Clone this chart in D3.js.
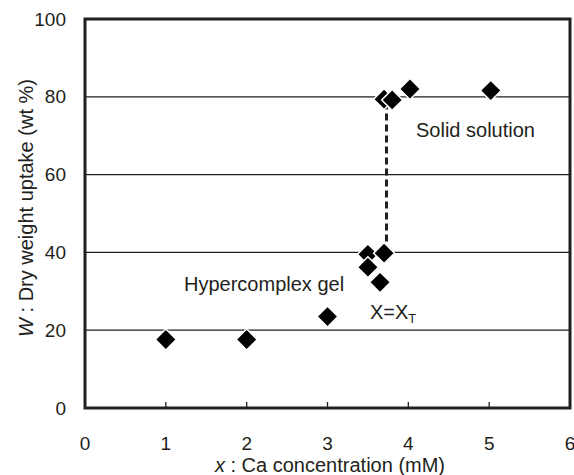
<!DOCTYPE html>
<html>
<head>
<meta charset="utf-8">
<script src="https://cdn.jsdelivr.net/npm/d3@7"></script>
<style>
body { margin: 0; background: #fff; }
text { font-family: "Liberation Sans", Arial, sans-serif; fill: #231f20; }
</style>
</head>
<body>
<div class="chart"></div>
<script>
// data
var ca_conc = [1, 2, 3, 3.5, 3.5, 3.65, 3.7, 3.7, 3.8, 4.02, 5.02];
var uptake = [17.6, 17.6, 23.5, 39.5, 36.2, 32.3, 39.8, 79.4, 79.2, 82.0, 81.6];
var x_ticks = [0, 1, 2, 3, 4, 5, 6];
var y_ticks = [0, 20, 40, 60, 80, 100];
var transition_x = [3.73];
var transition_y = [40, 79.5];

var width = 574, height = 475;
var margin = {left: 85, right: 4, top: 19, bottom: 67};

var svg = d3.select(".chart").append("svg")
	.attr("width", width)
	.attr("height", height);

var x = d3.scaleLinear()
	.domain([0, 6])
	.range([margin.left, width - margin.right]);

var y = d3.scaleLinear()
	.domain([0, 100])
	.range([height - margin.bottom, margin.top]);

// gridlines
svg.selectAll(".grid")
	.data(y_ticks.filter(function(d){ return d > 0 && d < 100; }))
	.enter().append("line")
		.attr("class", "grid")
		.attr("x1", x(0))
		.attr("x2", x(6))
		.attr("y1", function(d){ return y(d); })
		.attr("y2", function(d){ return y(d); })
		.style("stroke", "#231f20")
		.style("stroke-width", 1.3);

// x ticks (inside, from the bottom)
svg.selectAll(".xtick")
	.data(x_ticks.filter(function(d){ return d > 0 && d < 6; }))
	.enter().append("line")
		.attr("x1", function(d){ return x(d); })
		.attr("x2", function(d){ return x(d); })
		.attr("y1", y(0))
		.attr("y2", y(0) - 6)
		.style("stroke", "#231f20")
		.style("stroke-width", 1.3);

// frame
svg.append("rect")
	.attr("x", x(0))
	.attr("y", y(100))
	.attr("width", x(6) - x(0))
	.attr("height", y(0) - y(100))
	.style("fill", "none")
	.style("stroke", "#231f20")
	.style("stroke-width", 3);

// tick labels
svg.selectAll(".xlabel")
	.data(x_ticks)
	.enter().append("text")
		.attr("x", function(d){ return x(d); })
		.attr("y", 450)
		.attr("text-anchor", "middle")
		.style("font-size", "19px")
		.text(function(d){ return d; });

svg.selectAll(".ylabel")
	.data(y_ticks)
	.enter().append("text")
		.attr("x", 66)
		.attr("y", function(d){ return y(d); })
		.attr("dy", "0.35em")
		.attr("text-anchor", "end")
		.style("font-size", "19px")
		.text(function(d){ return d; });

// axis titles
var xt = svg.append("text")
	.attr("x", 330)
	.attr("y", 472)
	.attr("text-anchor", "middle")
	.style("font-size", "20px");
xt.append("tspan").style("font-style", "italic").text("x");
xt.append("tspan").text(" : Ca concentration (mM)");

var yt = svg.append("text")
	.attr("transform", "translate(33, 208) rotate(-90)")
	.attr("text-anchor", "middle")
	.style("font-size", "20px");
yt.append("tspan").style("font-style", "italic").text("W");
yt.append("tspan").text(" : Dry weight uptake (wt %)");

// dashed transition line
svg.append("line")
	.attr("x1", x(transition_x[0]))
	.attr("x2", x(transition_x[0]))
	.attr("y1", y(transition_y[0]))
	.attr("y2", y(transition_y[1]))
	.style("stroke", "#231f20")
	.style("stroke-width", 3)
	.style("stroke-dasharray", "7, 4");

// markers
var pts = ca_conc.map(function(d, i){ return {x: d, y: uptake[i]}; });
var diamond = d3.symbol().type(d3.symbolSquare).size(220);

svg.selectAll(".pt")
	.data(pts)
	.enter().append("path")
		.attr("class", "pt")
		.attr("d", diamond)
		.attr("transform", function(d){ return "translate(" + x(d.x) + "," + y(d.y) + ") rotate(45)"; })
		.style("fill", "#000")
		.style("stroke", "#fff")
		.style("stroke-width", 1.5);

// annotations
svg.append("text")
	.attr("x", 416)
	.attr("y", 137)
	.style("font-size", "20px")
	.text("Solid solution");

svg.append("text")
	.attr("x", 184)
	.attr("y", 291)
	.style("font-size", "20px")
	.text("Hypercomplex gel");

var xx = svg.append("text")
	.attr("x", 370)
	.attr("y", 319)
	.style("font-size", "20px");
xx.append("tspan").text("X=X");
xx.append("tspan").attr("dy", 4).style("font-size", "13px").text("T");
</script>
</body>
</html>
